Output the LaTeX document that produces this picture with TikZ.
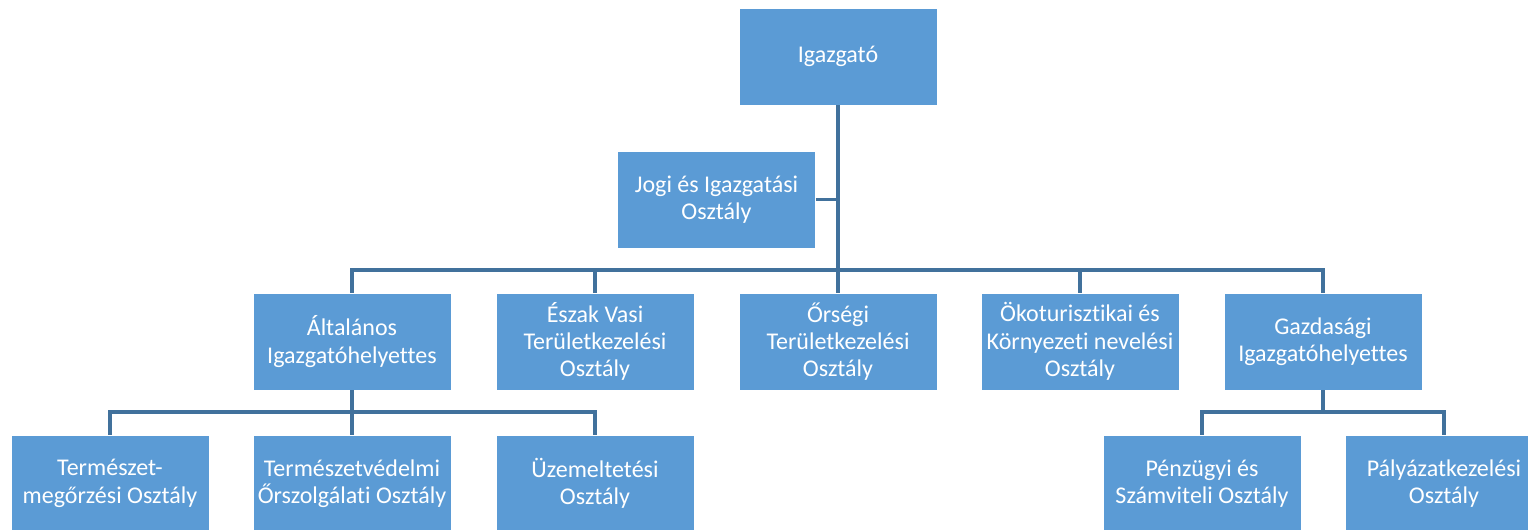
\documentclass[tikz,border=0pt]{standalone}
\usepackage{fontspec}
\setmainfont{Carlito}[Ligatures=NoCommon]
\definecolor{boxBlue}{HTML}{5B9BD5}
\definecolor{lineBlue}{HTML}{41719C}

\begin{document}
\begin{tikzpicture}[x=0.75pt,y=-0.75pt,
    unit/.style={fill=boxBlue, draw=white, line width=0.6pt, text=white,
      minimum width=148.5pt, minimum height=72.75pt, inner sep=0pt,
      align=center, font=\fontsize{18}{20.5}\selectfont},
    link/.style={draw=lineBlue, line width=2.5pt}]
    \useasboundingbox (0,0) rectangle (1528,530);
    \clip (0,0) rectangle (1528,530);
    % top
    \node[unit] (ig) at (838,56.5) {Igazgató};
    \node[unit] (jogi) at (716.5,199.5) {Jogi és Igazgatási\\Osztály};
    \coordinate (bus) at (838,270);
    % second row
    \node[unit] (alt) at (352,341.5) {Általános\\Igazgatóhelyettes};
    \node[unit] (eszak) at (595,341.5) {Észak Vasi\\Területkezelési\\Osztály};
    \node[unit] (orseg) at (838,341.5) {Őrségi\\Területkezelési\\Osztály};
    \node[unit] (oko) at (1080,341.5) {Ökoturisztikai és\\Környezeti nevelési\\Osztály};
    \node[unit] (gazd) at (1323,341.5) {Gazdasági\\Igazgatóhelyettes};
    % third row
    \node[unit] (term) at (110,483.5) {Természet-\\megőrzési Osztály};
    \node[unit] (vedel) at (352,483.5) {Természetvédelmi\\Őrszolgálati Osztály};
    \node[unit] (uzem) at (595,483.5) {Üzemeltetési\\Osztály};
    \node[unit] (penz) at (1202,483.5) {Pénzügyi és\\Számviteli Osztály};
    \node[unit] (palya) at (1444,483.5) {Pályázatkezelési\\Osztály};
    \coordinate (busL) at (352,412);
    \coordinate (busR) at (1323,412);
    % connectors
    \draw[link] (ig.south) -- (bus);
    \draw[link] (jogi.east) -- (jogi.east -| bus);
    \draw[link] (alt.north) |- (gazd.north |- bus) -- (gazd.north);
    \draw[link] (eszak.north) -- (eszak.north |- bus);
    \draw[link] (orseg.north) -- (bus);
    \draw[link] (oko.north) -- (oko.north |- bus);
    \draw[link] (alt.south) -- (busL);
    \draw[link] (term.north) |- (uzem.north |- busL) -- (uzem.north);
    \draw[link] (vedel.north) -- (busL);
    \draw[link] (gazd.south) -- (busR);
    \draw[link] (penz.north) |- (palya.north |- busR) -- (palya.north);
\end{tikzpicture}
\end{document}
